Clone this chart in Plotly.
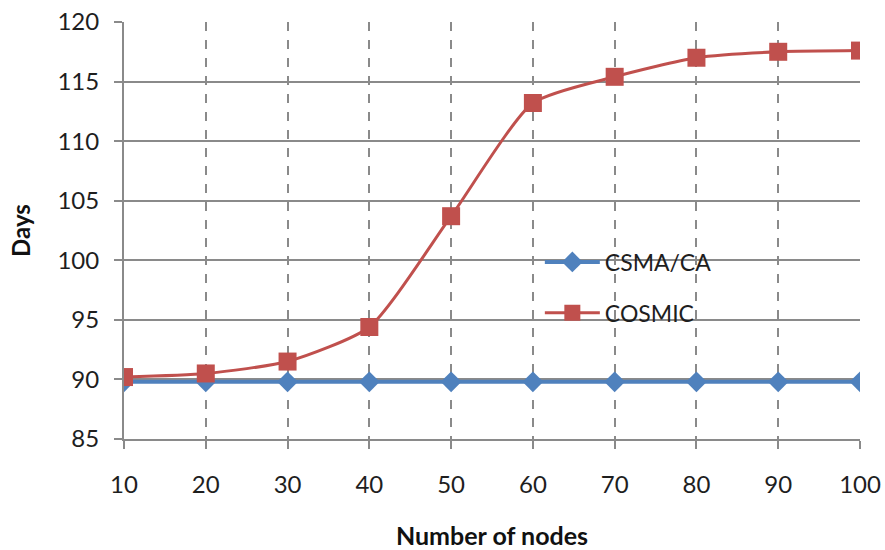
import plotly.graph_objects as go

nodes = [10, 20, 30, 40, 50, 60, 70, 80, 90, 100]
csma_ca = [89.8, 89.8, 89.8, 89.8, 89.8, 89.8, 89.8, 89.8, 89.8, 89.8]
cosmic = [90.2, 90.5, 91.5, 94.4, 103.7, 113.2, 115.4, 117.0, 117.5, 117.6]
y_ticks = [85, 90, 95, 100, 105, 110, 115, 120]

FONT = "Lato"
GRID = "#8a8a8a"
TXT = "#1e1e1e"

fig = go.Figure()
fig.add_trace(go.Scatter(
    x=nodes, y=csma_ca, name="CSMA/CA", mode="lines+markers",
    line=dict(color="#4F81BD", width=4),
    marker=dict(symbol="diamond", size=16, color="#4F81BD"),
    legendgroup="a",
))
fig.add_trace(go.Scatter(
    x=nodes, y=cosmic, name="COSMIC", mode="lines+markers",
    line=dict(color="#C0504D", width=3, shape="spline", smoothing=0.6),
    marker=dict(symbol="square", size=18, color="#C0504D"),
    legendgroup="b",
))

# white box behind the legend (hides the gridlines like the reference)
fig.add_shape(type="rect", xref="paper", yref="paper",
              x0=0.508, x1=0.861, y0=0.245, y1=0.496,
              fillcolor="white", line=dict(width=0), layer="between")

fig.update_layout(
    width=885, height=550,
    margin=dict(l=124, r=25, t=22, b=111),
    paper_bgcolor="white", plot_bgcolor="white",
    font=dict(family=FONT, size=24, color=TXT),
    legend=dict(
        x=0.565, y=0.476, xanchor="left", yanchor="top",
        bgcolor="rgba(0,0,0,0)", traceorder="grouped", tracegroupgap=18,
        itemwidth=55, font=dict(family=FONT, size=23, color=TXT),
    ),
    xaxis=dict(
        type="linear", range=[10, 100], tickvals=nodes,
        ticktext=[str(n) for n in nodes],
        showgrid=True, gridcolor=GRID, griddash="dash", gridwidth=1.5,
        showline=True, linecolor=GRID, linewidth=2,
        ticks="outside", ticklen=8, tickcolor=GRID, tickwidth=2,
        ticklabelstandoff=15, ticklabeloverflow="allow",
        zeroline=False, automargin=False,
        title=dict(text="<b>Number of nodes</b>", font=dict(family=FONT, size=25, color="#111111"), standoff=32),
    ),
    yaxis=dict(
        range=[85, 120], tickvals=y_ticks,
        showgrid=True, gridcolor=GRID, gridwidth=2,
        showline=True, linecolor=GRID, linewidth=2,
        ticks="outside", ticklen=8, tickcolor=GRID, tickwidth=2,
        ticklabelstandoff=10, ticklabeloverflow="allow",
        zeroline=False, automargin=False,
        title=dict(text="<b>Days</b>", font=dict(family=FONT, size=24, color="#111111"), standoff=20),
    ),
)

# remove the default 8px page margin so the 885x550 figure fills the window exactly
fig.write_html(
    "out.html",
    config={"displayModeBar": False},
    post_script="document.body.style.margin='0';document.body.style.overflow='hidden';",
)
